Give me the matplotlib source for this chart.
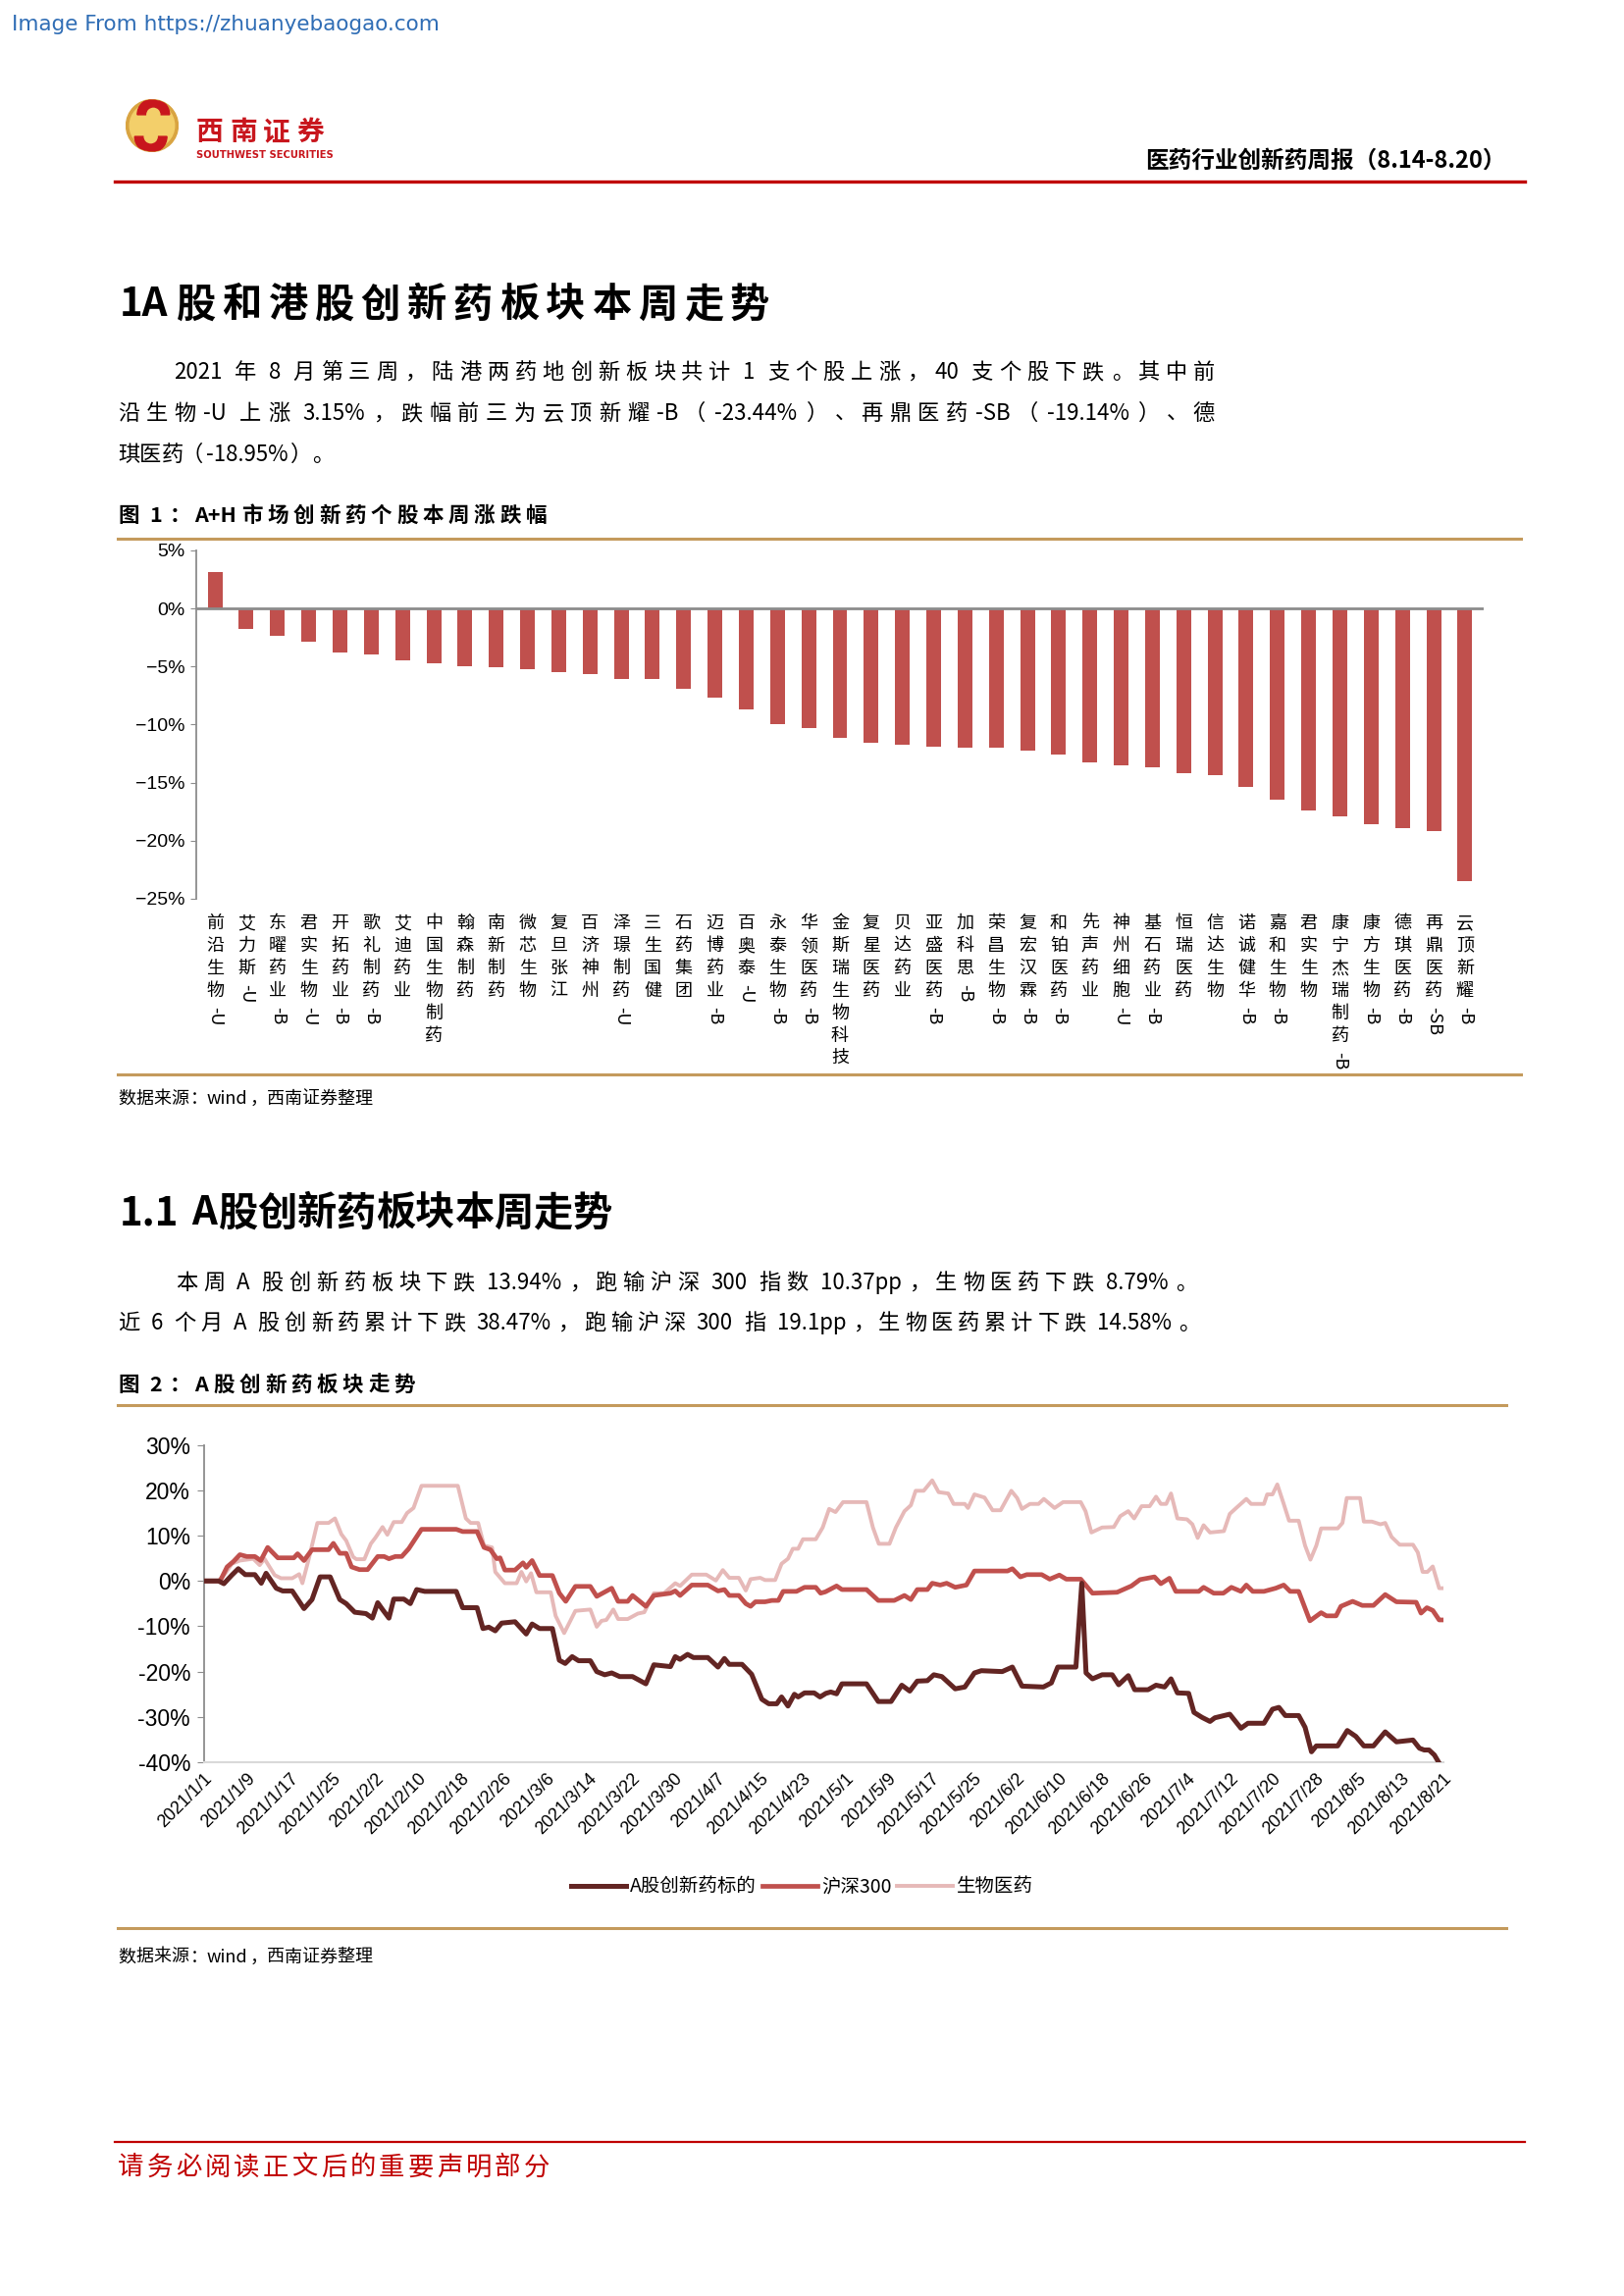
import re
import pandas as pd
import matplotlib
matplotlib.use('Agg')
import matplotlib.pyplot as plt
from matplotlib import font_manager
from matplotlib.font_manager import FontProperties
from matplotlib.patches import Circle, Wedge
from matplotlib.lines import Line2D

# ---------------- data: figure 1 (weekly change, %) ----------------
stock_names = ['前沿生物-U', '艾力斯-U', '东曜药业-B', '君实生物-U', '开拓药业-B', '歌礼制药-B',
               '艾迪药业', '中国生物制药', '翰森制药', '南新制药', '微芯生物', '复旦张江', '百济神州',
               '泽璟制药-U', '三生国健', '石药集团', '迈博药业-B', '百奥泰-U', '永泰生物-B',
               '华领医药-B', '金斯瑞生物科技', '复星医药', '贝达药业', '亚盛医药-B', '加科思-B',
               '荣昌生物-B', '复宏汉霖-B', '和铂医药-B', '先声药业', '神州细胞-U', '基石药业-B',
               '恒瑞医药', '信达生物', '诺诚健华-B', '嘉和生物-B', '君实生物', '康宁杰瑞制药-B',
               '康方生物-B', '德琪医药-B', '再鼎医药-SB', '云顶新耀-B']
stock_change = [3.15, -1.80, -2.36, -2.90, -3.78, -3.93, -4.44, -4.68, -5.00, -5.02, -5.20,
                -5.52, -5.68, -6.04, -6.06, -6.92, -7.64, -8.67, -9.94, -10.27, -11.15, -11.54,
                -11.70, -11.87, -12.00, -12.02, -12.24, -12.57, -13.26, -13.47, -13.66, -14.17,
                -14.35, -15.38, -16.47, -17.37, -17.89, -18.58, -18.95, -19.14, -23.44]
bar_ticks = [5, 0, -5, -10, -15, -20, -25]

# ---------------- data: figure 2 (cumulative %, days after 2021-01-01) ----------------
inno_days = [0, 2.7, 3.7, 5.2, 6.4, 7.7, 9.5, 10.7, 11.6, 13.5, 14.7, 16.5, 18.7, 20.2, 21.7,
             23.6, 25.4, 26.6, 28.2, 30.3, 31.5, 32.5, 33.4, 34.6, 35.5, 37.4, 38.6, 39.8, 41.3,
             47.2, 48.4, 51.1, 52.2, 53.3, 54.5, 55.7, 58.2, 60.3, 61.4, 62.8, 65.2, 66.5, 67.6,
             68.9, 70.1, 72.3, 73.5, 75.0, 76.3, 77.8, 80.2, 82.7, 84.2, 87.3, 88.2, 89.1, 90.5,
             91.6, 94.3, 96.2, 97.4, 98.3, 100.7, 102.5, 104.4, 105.7, 107.2, 108.1, 109.3,
             110.5, 111.2, 112.4, 114.2, 115.3, 116.4, 117.3, 118.4, 119.4, 124.0, 126.2, 128.6,
             130.6, 132.1, 133.5, 135.4, 136.6, 138.1, 140.6, 142.4, 144.2, 145.5, 149.4, 151.3,
             153.1, 157.1, 158.6, 159.8, 163.2, 164.3, 165.1, 166.3, 168.1, 170.0, 171.2, 173.0,
             174.2, 176.7, 178.2, 179.8, 181.0, 182.2, 184.3, 185.3, 186.8, 188.3, 189.2, 192.0,
             194.1, 195.4, 198.4, 200.0, 201.2, 202.4, 204.9, 206.1, 207.3, 208.2, 212.2, 214.0,
             215.6, 217.1, 218.9, 221.1, 223.2, 226.3, 227.5, 228.4, 229.3, 230.3, 231.0]
inno_vals = [0, 0, -0.6, 1.3, 2.7, 1.4, 1.4, -0.5, 1.7, -1.6, -2.2, -2.2, -6.1, -4.1, 0.9,
             0.9, -4.1, -5.0, -6.9, -7.2, -8.2, -4.8, -6.3, -8.2, -4.0, -4.0, -5.0, -1.9, -2.3,
             -2.3, -5.9, -5.9, -10.5, -10.2, -11.0, -9.3, -9.0, -11.7, -9.5, -10.5, -10.5, -17.5,
             -18.2, -16.7, -17.6, -17.6, -20.0, -20.7, -20.3, -21.1, -21.1, -22.7, -18.5, -18.9,
             -16.7, -17.3, -16.2, -16.9, -16.9, -19.0, -17.1, -18.4, -18.4, -20.6, -26.1, -27.1,
             -27.1, -25.6, -27.6, -25.0, -25.6, -24.7, -24.7, -25.6, -24.8, -24.5, -24.9, -22.7,
             -22.7, -26.6, -26.6, -23.0, -24.3, -22.1, -22.0, -20.7, -21.1, -23.8, -23.4, -20.3,
             -19.8, -20.0, -19.0, -23.2, -23.4, -22.5, -19.0, -19.0, -0.5, -20.3, -21.6, -20.7,
             -20.7, -22.9, -20.9, -24.0, -24.0, -23.0, -23.4, -21.6, -24.7, -24.8, -29.0, -30.1,
             -31.0, -30.2, -29.4, -32.5, -31.4, -31.4, -28.3, -27.9, -29.7, -29.7, -32.3, -37.7,
             -36.4, -36.4, -33.0, -34.3, -36.4, -36.4, -33.3, -35.5, -35.1, -36.9, -37.3, -37.3,
             -38.4, -39.8]

hs300_days = [0, 3.0, 4.3, 5.5, 6.7, 8.0, 9.5, 10.6, 11.9, 13.8, 16.8, 17.5, 18.7, 20.2, 23.3,
              24.2, 25.4, 26.6, 27.6, 29.1, 30.6, 32.5, 33.7, 34.6, 35.8, 37.0, 38.3, 40.7, 47.2,
              48.4, 51.1, 52.4, 53.6, 54.8, 55.4, 56.3, 58.2, 59.7, 60.3, 61.4, 62.8, 65.2, 66.5,
              67.7, 69.5, 72.3, 73.5, 76.3, 77.5, 79.3, 80.2, 82.7, 84.2, 87.3, 88.2, 89.1, 91.3,
              94.3, 96.2, 97.4, 98.3, 100.1, 101.4, 102.3, 103.2, 105.0, 106.3, 107.5, 108.4,
              110.9, 112.4, 114.5, 115.4, 116.3, 118.4, 119.4, 124.0, 126.2, 129.2, 131.1, 132.3,
              133.5, 135.4, 136.3, 137.8, 139.0, 140.6, 142.7, 144.2, 150.4, 151.3, 152.8, 154.0,
              156.8, 158.3, 160.1, 161.4, 164.1, 166.3, 170.9, 173.6, 175.2, 177.9, 179.1, 180.7,
              181.9, 186.2, 187.1, 189.0, 190.8, 192.3, 194.1, 195.1, 196.3, 198.4, 200.6, 202.1,
              203.3, 204.9, 207.0, 209.1, 210.1, 211.9, 212.8, 215.0, 216.8, 218.9, 221.1, 223.2,
              226.9, 227.8, 228.9, 230.0, 231.2, 232.0]
hs300_vals = [0, 0, 3.1, 4.3, 5.8, 5.4, 5.4, 4.5, 7.4, 5.1, 5.1, 6.0, 4.5, 6.9, 6.9,
              8.3, 6.1, 6.1, 3.1, 2.5, 2.5, 5.4, 5.4, 4.9, 5.4, 5.4, 7.1, 11.4, 11.4,
              10.9, 10.9, 7.4, 6.9, 4.9, 5.1, 2.4, 2.4, 4.0, 3.0, 4.5, 1.2, 1.2, -2.7,
              -4.5, -1.2, -1.2, -3.4, -1.6, -4.5, -4.5, -3.2, -5.6, -3.2, -2.7, -2.2, -3.2, -0.9,
              -0.9, -2.2, -1.9, -3.2, -3.2, -5.0, -5.6, -4.6, -4.6, -4.3, -4.3, -2.3,
              -2.3, -1.4, -1.4, -2.7, -2.4, -1.1, -1.9, -1.9, -4.3, -4.3, -3.2, -4.1,
              -1.9, -1.9, -0.5, -0.9, -0.5, -1.4, -0.9, 2.2, 2.2, 2.7, 0.9, 1.4,
              1.4, 0.4, 1.3, 0.4, 0.4, -2.7, -2.5, -1.1, 0.3, 0.9, -0.6, 0.6,
              -2.3, -2.3, -1.4, -2.7, -2.7, -1.4, -2.3, -0.9, -2.3, -2.3, -1.6, -0.9,
              -2.3, -2.3, -8.8, -7.0, -7.7, -7.7, -5.6, -4.5, -5.4, -5.4, -3.0, -4.6,
              -4.7, -7.1, -5.9, -6.5, -8.6, -8.6]

bio_days = [0, 2.7, 4.0, 5.2, 6.7, 9.2, 10.4, 11.3, 13.2, 14.4, 16.5, 17.8, 18.4, 19.6, 21.2,
            23.3, 24.5, 25.7, 26.6, 27.9, 28.5, 30.0, 31.2, 32.1, 33.4, 34.3, 35.5, 37.0, 38.0,
            39.2, 40.7, 47.5, 49.0, 49.9, 51.3, 52.4, 53.9, 54.5, 56.3, 58.5, 59.4, 60.3, 61.2,
            62.2, 64.9, 65.8, 67.4, 69.5, 72.3, 73.5, 74.4, 75.3, 76.6, 77.5, 79.3, 81.2, 82.4,
            84.2, 86.1, 88.2, 89.1, 91.3, 94.0, 95.8, 97.1, 98.3, 100.1, 101.4, 102.3, 104.1,
            105.0, 106.9, 108.1, 109.3, 110.2, 111.2, 112.1, 114.5, 115.8, 117.0, 118.2, 119.6,
            124.0, 125.2, 126.3, 128.3, 129.5, 131.1, 132.3, 133.2, 134.7, 136.3, 137.5, 139.3,
            140.3, 142.4, 143.0, 144.2, 146.1, 147.6, 149.1, 151.1, 152.2, 153.1, 154.6, 156.2,
            157.2, 159.2, 160.8, 164.1, 165.0, 166.1, 168.1, 170.3, 171.5, 173.0, 174.1, 175.5,
            177.0, 178.2, 179.1, 180.1, 181.0, 182.2, 184.0, 185.0, 186.0, 187.1, 188.3, 190.9,
            192.0, 193.2, 195.1, 196.0, 198.4, 199.0, 200.0, 200.9, 202.1, 203.1, 204.9, 206.1,
            207.1, 208.2, 209.1, 212.2, 213.1, 213.9, 216.4, 217.1, 218.6, 220.2, 221.1, 222.3,
            223.8, 226.3, 227.2, 228.1, 229.0, 230.0, 231.2, 232.0]
bio_vals = [0, 0, 1.7, 3.8, 4.5, 4.9, 3.5, 4.9, 1.3, 0.6, 0.6, 1.5, -0.5, 4.9, 12.8,
            12.8, 13.8, 10.3, 8.9, 5.3, 4.8, 4.8, 8.2, 9.6, 11.9, 10.2, 13.0, 13.0, 15.0,
            16.1, 21.0, 21.0, 13.8, 12.8, 12.8, 7.8, 7.4, 2.0, -0.5, -0.5, 2.0, -0.1, 1.7,
            -2.5, -2.5, -7.7, -11.5, -6.6, -6.3, -10.1, -8.8, -8.6, -6.3, -8.4, -8.4, -7.2, -6.9,
            -2.7, -2.7, -0.5, -1.1, 1.4, 1.4, 0.1, 2.4, 0.7, 0.7, -2.1, 0.4, 0.7,
            0.2, 0.2, 3.8, 4.9, 7.1, 7.1, 9.2, 9.2, 11.8, 15.9, 15.2, 17.4,
            17.4, 11.8, 8.2, 8.2, 11.8, 15.4, 16.7, 19.9, 19.9, 22.2, 19.6, 19.3,
            17.0, 17.0, 16.1, 19.1, 18.4, 15.6, 15.6, 19.9, 18.3, 15.9, 17.0, 17.0,
            18.1, 16.1, 17.4, 17.4, 15.4, 10.7, 11.8, 11.9, 14.3, 15.4, 13.8, 16.5,
            16.5, 18.6, 17.0, 17.0, 19.3, 13.8, 13.6, 12.5, 9.5, 12.3, 10.7, 11.0,
            14.8, 16.1, 18.1, 17.0, 17.0, 19.1, 19.1, 21.3, 17.0, 13.3, 13.3, 7.8,
            4.7, 7.8, 11.6, 11.6, 12.8, 18.3, 18.3, 13.1, 13.1, 12.5, 12.8, 9.7,
            8.0, 8.0, 6.3, 2.0, 2.0, 3.2, -1.6, -1.6]

date_labels = ['2021/1/1', '2021/1/9', '2021/1/17', '2021/1/25', '2021/2/2', '2021/2/10',
               '2021/2/18', '2021/2/26', '2021/3/6', '2021/3/14', '2021/3/22', '2021/3/30',
               '2021/4/7', '2021/4/15', '2021/4/23', '2021/5/1', '2021/5/9', '2021/5/17',
               '2021/5/25', '2021/6/2', '2021/6/10', '2021/6/18', '2021/6/26', '2021/7/4',
               '2021/7/12', '2021/7/20', '2021/7/28', '2021/8/5', '2021/8/13', '2021/8/21']
line_ticks = [30, 20, 10, 0, -10, -20, -30, -40]
series_names = ['A股创新药标的', '沪深300', '生物医药']

# ---------------- fonts / page helpers ----------------
W, H = 1655, 2340
CJK = ['Noto Sans CJK SC', 'DejaVu Sans']
avail = {f.name for f in font_manager.fontManager.ttflist}
NARROW = 'Liberation Sans Narrow' if 'Liberation Sans Narrow' in avail else 'Liberation Sans'
plt.rcParams['font.family'] = CJK
plt.rcParams['axes.unicode_minus'] = False

GOLD = '#C49A5C'
DARKRED = '#C00000'
BAR_RED = '#C0504D'
OPEN_P = '（“《'
CLOSE_P = '）”》，。、：；'

fig = plt.figure(figsize=(W / 100, H / 100), dpi=100)
renderer = fig.canvas.get_renderer()


def fx(x):
    return x / W


def fy(y):
    return 1 - y / H


def hline(x0, x1, y, color, lw):
    fig.add_artist(Line2D([fx(x0), fx(x1)], [fy(y), fy(y)], color=color, lw=lw,
                          transform=fig.transFigure))


def tw(s, size, weight):
    fp = FontProperties(family=CJK, size=size, weight=weight)
    w, h, d = renderer.get_text_width_height_descent(s, fp, ismath=False)
    return w


def spread(x0, x1, y, s, size, weight='normal', color='black', justify=True):
    # one line of report text: CJK glyphs on full-width cells, spare room shared
    # between the glyphs so the line fills x0..x1 (justified like the source)
    em = size * 100 / 72
    toks = re.findall(r'[\x21-\x7e]+| +|[^\x00-\x7f]', s)
    ws = []
    for t in toks:
        if not t.strip():
            ws.append(0.25 * em * len(t))
        elif t.isascii():
            ws.append(tw(t, size, weight) + 0.08 * em)
        else:
            ws.append(em)
    n_solid = sum(1 for t in toks if t.strip())
    extra = (x1 - x0 - sum(ws)) / max(n_solid - 1, 1) if justify else 0
    base = y + 0.36 * em
    x = x0
    for t, w in zip(toks, ws):
        if not t.strip():
            x += w
            continue
        kw = dict(fontsize=size, fontweight=weight, color=color, va='baseline')
        if t.isascii():
            fig.text(fx(x + 0.04 * em), fy(base), t, ha='left', **kw)
        elif t in OPEN_P:
            fig.text(fx(x + 0.92 * em), fy(base), t, ha='right', **kw)
        elif t in CLOSE_P:
            fig.text(fx(x + 0.08 * em), fy(base), t, ha='left', **kw)
        else:
            fig.text(fx(x + em / 2), fy(base), t, ha='center', **kw)
        x += w + extra


def plain(x, y, s, size, weight='normal', color='black', ha='left', **kw):
    fig.text(fx(x), fy(y + 0.36 * size * 100 / 72), s, fontsize=size, fontweight=weight,
             color=color, ha=ha, va='baseline', **kw)


# ---------------- page header ----------------
fig.text(fx(12), fy(25), 'Image From https://zhuanyebaogao.com', fontsize=15.5,
         family='DejaVu Sans', color='#2F6DB5', ha='left', va='center')

lax = fig.add_axes([fx(128), fy(155), 54 / W, 54 / H])
lax.set_xlim(-1.02, 1.02)
lax.set_ylim(-1.02, 1.02)
lax.set_aspect('equal')
lax.axis('off')
disc = Circle((0, 0), 1, color='#D9A441')
lax.add_patch(disc)
lax.add_patch(Circle((0, 0), 0.86, color='#F3CF6A'))
w1 = Wedge((0.05, 0.42), 0.62, 0, 180, width=0.32, color='#C8161D')
w2 = Wedge((-0.05, -0.42), 0.62, 180, 360, width=0.32, color='#C8161D')
for w in (w1, w2):
    lax.add_patch(w)
    w.set_clip_path(disc)

spread(200, 330, 133, '西南证券', 20, weight='bold', color='#C8161D')
fig.text(fx(200), fy(158), 'SOUTHWEST SECURITIES', fontsize=7.2, family='DejaVu Sans',
         fontweight='bold', color='#C8161D', ha='left', va='center')

plain(1535, 162, '医药行业创新药周报（8.14-8.20）', 17, weight='bold', ha='right')
hline(117, 1554, 185, DARKRED, 2.4)

# ---------------- section 1 text ----------------
spread(120, 784, 308, '1A股和港股创新药板块本周走势', 29, weight='bold')
spread(176, 1238, 378, '2021 年 8 月第三周，陆港两药地创新板块共计 1 支个股上涨，40 支个股下跌。其中前', 16)
spread(120, 1238, 420, '沿生物-U 上涨 3.15%，跌幅前三为云顶新耀-B（-23.44%）、再鼎医药-SB（-19.14%）、德', 16)
spread(120, 0, 462, '琪医药（-18.95%）。', 16, justify=False)
spread(120, 557, 524, '图 1：A+H市场创新药个股本周涨跌幅', 15.5, weight='bold')
hline(120, 1550, 549, GOLD, 2.2)

# ---------------- figure 1: bars ----------------
ax1 = fig.add_axes([fx(200), fy(916), (1512 - 200) / W, (916 - 561) / H])
xs = list(range(len(stock_names)))
ax1.bar(xs, stock_change, width=0.47, color=BAR_RED, zorder=2)
ax1.axhline(0, color='#8C8C8C', lw=2, zorder=3)
ax1.set_xlim(-0.6, len(stock_names) - 0.4)
ax1.set_ylim(-25, 5)
ax1.set_yticks(bar_ticks)
ax1.set_yticklabels([f'{v}%'.replace('-', '\u2212') for v in bar_ticks], fontfamily=NARROW)
ax1.tick_params(axis='y', labelsize=14, length=4, color='#8C8C8C', pad=4)
ax1.tick_params(axis='x', length=0, labelbottom=False)
for sp in ('top', 'right', 'bottom'):
    ax1.spines[sp].set_visible(False)
ax1.spines['left'].set_color('#8C8C8C')
ax1.spines['left'].set_linewidth(1.3)

top_off, line_pt = 11.5, 16.6
for i, name in enumerate(stock_names):
    cn, _, suf = name.partition('-')
    for k, ch in enumerate(cn):
        ax1.annotate(ch, xy=(i, 0), xycoords=('data', 'axes fraction'),
                     xytext=(0, -(top_off + k * line_pt)), textcoords='offset points',
                     ha='center', va='top', fontsize=13)
    if suf:
        ax1.annotate('-' + suf, xy=(i, 0), xycoords=('data', 'axes fraction'),
                     xytext=(0, -(top_off + len(cn) * line_pt + 1)), textcoords='offset points',
                     ha='center', va='top', fontsize=13, rotation=-90)

hline(120, 1550, 1095, GOLD, 2.2)
spread(120, 0, 1118, '数据来源：wind，西南证券整理', 13, justify=False)

# ---------------- section 1.1 text ----------------
spread(120, 624, 1234, '1.1 A股创新药板块本周走势', 29, weight='bold')
spread(179, 1219, 1306, '本周 A 股创新药板块下跌 13.94%，跑输沪深 300 指数 10.37pp，生物医药下跌 8.79%。', 16)
spread(120, 1222, 1347, '近 6 个月 A 股创新药累计下跌 38.47%，跑输沪深 300 指 19.1pp，生物医药累计下跌 14.58%。', 16)
spread(120, 423, 1410, '图 2：A股创新药板块走势', 15.5, weight='bold')
hline(120, 1535, 1432, GOLD, 2.2)

# ---------------- figure 2: lines ----------------
start = pd.Timestamp('2021-01-01')


def to_dates(days):
    return [start + pd.Timedelta(days=d) for d in days]


ax2 = fig.add_axes([fx(208), fy(1796), (1471 - 208) / W, (1796 - 1472.7) / H])
l3, = ax2.plot(to_dates(bio_days), bio_vals, color='#E6B9B8', lw=2.8, label=series_names[2], zorder=2)
l2, = ax2.plot(to_dates(hs300_days), hs300_vals, color='#C0504D', lw=3.4, label=series_names[1], zorder=3)
l1, = ax2.plot(to_dates(inno_days), inno_vals, color='#632523', lw=3.6, label=series_names[0], zorder=4)
tick_dates = pd.to_datetime(date_labels, format='%Y/%m/%d')
ax2.set_xlim(start, tick_dates[-1])
ax2.set_ylim(-40, 30)
ax2.set_xticks(tick_dates)
ax2.set_xticklabels(date_labels, rotation=45, ha='right', rotation_mode='anchor',
                    fontsize=13, fontfamily='Liberation Sans')
ax2.set_yticks(line_ticks)
ax2.set_yticklabels([f'{v}%' for v in line_ticks], fontfamily=NARROW)
ax2.tick_params(axis='y', labelsize=16.5, length=5, color='#8C8C8C', pad=5)
ax2.tick_params(axis='x', length=0, pad=6)
for sp in ('top', 'right'):
    ax2.spines[sp].set_visible(False)
ax2.spines['left'].set_color('#8C8C8C')
ax2.spines['left'].set_linewidth(1.3)
ax2.spines['bottom'].set_color('#D9D9D9')
ax2.spines['bottom'].set_linewidth(1.5)

fig.legend(handles=[l1, l2, l3], loc='center', bbox_to_anchor=(fx(817), fy(1923)), ncol=3,
           frameon=False, fontsize=14, handlelength=2.9, handletextpad=0.2, columnspacing=0.3)

hline(120, 1535, 1965, GOLD, 2.2)
spread(120, 0, 1993, '数据来源：wind，西南证券整理', 13, justify=False)

# ---------------- footer ----------------
hline(117, 1554, 2183, DARKRED, 1.6)
spread(120, 560, 2207, '请务必阅读正文后的重要声明部分', 19, color=DARKRED)

fig.savefig('out.png', dpi=100)
